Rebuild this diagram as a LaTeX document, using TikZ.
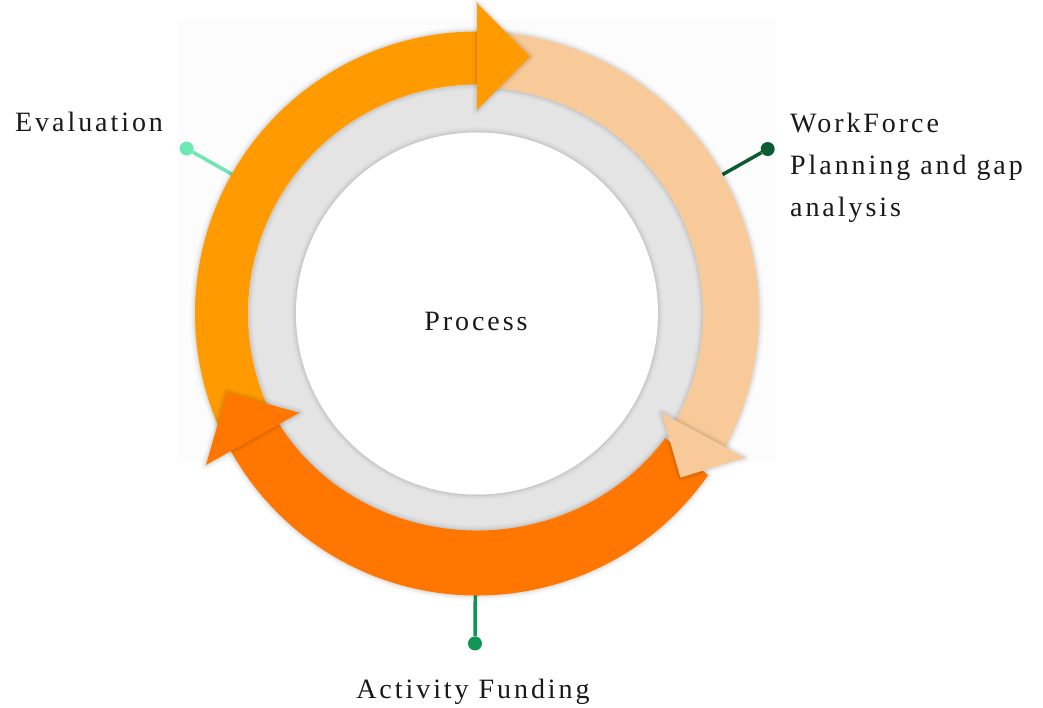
\documentclass[tikz,border=0pt]{standalone}
\usepackage{fontspec}
\setmainfont{Liberation Serif}[LetterSpace=10.5]
\usetikzlibrary{calc}

\definecolor{deeporange}{HTML}{FF7600}
\definecolor{midorange}{HTML}{FF9A00}
\definecolor{peach}{HTML}{F8CA9A}
\definecolor{ringgray}{HTML}{E4E4E4}
\definecolor{mint}{HTML}{6DE8B4}
\definecolor{pine}{HTML}{0B5C35}
\definecolor{jade}{HTML}{109555}

\begin{document}
\begin{tikzpicture}[x=1pt,y=1pt,
  soft/.style={preaction={draw=black,line width=10pt,opacity=0.025,line join=round},
               preaction={draw=black,line width=6pt,opacity=0.04,line join=round},
               preaction={draw=black,line width=3pt,opacity=0.05,line join=round}},
  label node/.style={font=\fontsize{28}{42}\selectfont,text=black!90,inner sep=0pt},
  pin dot/.style={circle,inner sep=0pt,minimum size=14pt},
  pin line/.style={line width=3.5pt}]

  \useasboundingbox (0,0) rectangle (1043,707);
  \fill[black!1] (178,245) rectangle (776,687);

  \begin{scope}[shift={(477,393.5)}]
    % pins, drawn first so the ring hides their inner ends
    \node[pin dot,fill=mint] (evaldot) at (150.4:334) {};
    \node[pin dot,fill=pine] (planDot) at (29.5:334) {};
    \node[pin dot,fill=jade] (fundDot) at (-90.35:330) {};
    \coordinate (evalend) at (150.4:265);
    \coordinate (planend) at (29.5:265);
    \coordinate (fundend) at (-90.35:265);
    \draw[pin line,mint] (evaldot) -- (evalend);
    \draw[pin line,pine] (planDot) -- (planend);
    \draw[pin line,jade] (fundDot) -- (fundend);

    % grey ring and white centre
    \fill[ringgray,even odd rule] (0,0) circle[radius=228.5] (0,0) circle[radius=181];
    \fill[white,soft] (0,0) circle[radius=181];

    % arrow bodies
    \fill[midorange,soft] (205:282) arc[start angle=205,end angle=90,radius=282]
      -- (90:229) arc[start angle=90,end angle=205,radius=229] -- cycle;
    \fill[peach,soft] (86:282) arc[start angle=86,end angle=-28.3,radius=282]
      -- (-28.3:226) arc[start angle=-28.3,end angle=86,radius=226] -- cycle;
    \fill[deeporange,soft] (-35:282) arc[start angle=-35,end angle=-150.8,radius=282]
      -- ({230*cos(-150.8)},{217*sin(-150.8)})
      arc[start angle=-150.8,end angle=-35,x radius=230,y radius=217] -- cycle;

    % arrow heads
    \foreach \ang/\hw/\len/\col in {90/53.5/53/midorange,-28.3/47/48/peach,209.2/53.5/53/deeporange}
      \fill[\col,soft] ({\ang}:{257-\hw}) -- ({\ang}:{257+\hw}) -- ($({\ang}:257)+({\ang-90}:\len)$) -- cycle;

    \node[label node] (process) at (-1,-7.5) {Process};
  \end{scope}

  \node[label node,anchor=base west] (evaluation) at (15,575) {Evaluation};
  \node[label node,anchor=base west,align=left] (planning) at (790,490) {WorkForce\\Planning and gap\\analysis};
  \node[label node,anchor=base] (funding) at (473,8.7) {Activity Funding};
\end{tikzpicture}
\end{document}
